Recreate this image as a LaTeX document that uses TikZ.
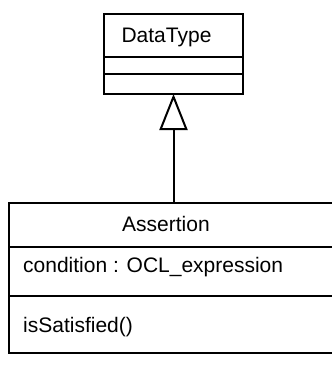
\documentclass[tikz,border=0pt]{standalone}
\usepackage{fontspec}
\setmainfont{Liberation Sans}
\usetikzlibrary{arrows.meta}
\begin{document}
\begin{tikzpicture}[x=1pt,y=-1pt,
  box/.style={draw=black, line width=2pt, rectangle, anchor=north west, inner sep=0pt, outer sep=0pt},
  lbl/.style={font=\fontsize{21}{25}\selectfont, inner sep=0pt}]
\useasboundingbox (0,0) rectangle (332,367);
\clip (0,0) rectangle (332,367);
% DataType class
\node[box, minimum width=139pt, minimum height=43pt] (dtname) at (104,14) {};
\node[box, minimum width=139pt, minimum height=17pt] (dtattr) at (104,57) {};
\node[box, minimum width=139pt, minimum height=20pt] (dtops) at (104,74) {};
\node[lbl, anchor=base] (dttext) at (166.5,42) {DataType};
% Assertion class
\node[box, minimum width=340pt, minimum height=44pt] (aname) at (9,203) {};
\node[box, minimum width=340pt, minimum height=49pt] (aattr) at (9,247) {};
\node[box, minimum width=340pt, minimum height=57pt] (aops) at (9,296) {};
\node[lbl, anchor=base] (atext) at (166,231) {Assertion};
\node[lbl, anchor=base west] (cond) at (23,272) {condition : OCL\_expression};
\node[lbl, anchor=base west] (meth) at (23,332) {isSatisfied()};
% generalization
\draw[line width=2pt, -{Triangle[open, length=36pt, width=28pt]}] (dtops.south |- aname.north) -- (dtops.south);
\end{tikzpicture}
\end{document}
